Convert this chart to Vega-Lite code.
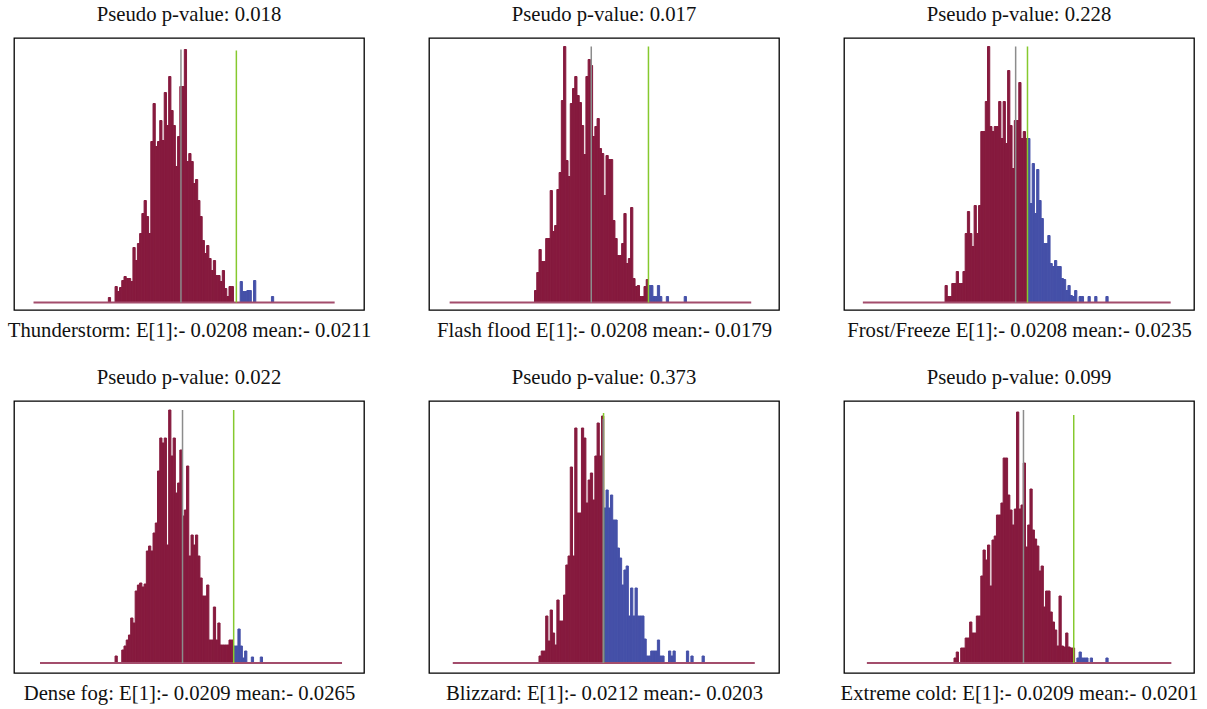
{
"$schema": "https://vega.github.io/schema/vega-lite/v6.json",
"background": "white",
"padding": {"left": 6, "top": 3, "right": 5, "bottom": 3},
"config": {
 "font": "Liberation Serif",
 "view": {"stroke": "#000", "strokeWidth": 1.3},
 "bar": {"strokeWidth": 1},
 "title": {"font": "Liberation Serif", "fontSize": 20.7, "fontWeight": "normal", "color": "#111", "baseline": "alphabetic", "offset": 12, "anchor": "middle"},
 "axis": {"domain": false, "ticks": false, "labels": false, "grid": false, "titleFont": "Liberation Serif", "titleFontSize": 20.7, "titleFontWeight": "normal", "titleColor": "#111", "titlePadding": 26, "titleBaseline": "alphabetic"}
},
"datasets": {
 "bars": [
  {"p":1,"b":40,"e":41,"n":5,"t":"lo"},{"p":1,"b":43,"e":44,"n":16,"t":"lo"},{"p":1,"b":44,"e":45,"n":11,"t":"lo"},{"p":1,"b":45,"e":46,"n":15,"t":"lo"},{"p":1,"b":46,"e":47,"n":22,"t":"lo"},{"p":1,"b":47,"e":48,"n":26,"t":"lo"},{"p":1,"b":48,"e":49,"n":24,"t":"lo"},{"p":1,"b":49,"e":50,"n":24,"t":"lo"},{"p":1,"b":50,"e":51,"n":21,"t":"lo"},{"p":1,"b":51,"e":52,"n":55,"t":"lo"},{"p":1,"b":52,"e":53,"n":42,"t":"lo"},{"p":1,"b":53,"e":54,"n":59,"t":"lo"},{"p":1,"b":54,"e":55,"n":69,"t":"lo"},{"p":1,"b":55,"e":56,"n":89,"t":"lo"},{"p":1,"b":56,"e":57,"n":102,"t":"lo"},{"p":1,"b":57,"e":58,"n":86,"t":"lo"},{"p":1,"b":58,"e":59,"n":69,"t":"lo"},{"p":1,"b":59,"e":60,"n":161,"t":"lo"},{"p":1,"b":60,"e":61,"n":199,"t":"lo"},{"p":1,"b":61,"e":62,"n":156,"t":"lo"},{"p":1,"b":62,"e":63,"n":161,"t":"lo"},{"p":1,"b":63,"e":64,"n":182,"t":"lo"},{"p":1,"b":64,"e":65,"n":162,"t":"lo"},{"p":1,"b":65,"e":66,"n":210,"t":"lo"},{"p":1,"b":66,"e":67,"n":177,"t":"lo"},{"p":1,"b":67,"e":68,"n":226,"t":"lo"},{"p":1,"b":68,"e":69,"n":192,"t":"lo"},{"p":1,"b":69,"e":70,"n":177,"t":"lo"},{"p":1,"b":70,"e":71,"n":136,"t":"lo"},{"p":1,"b":71,"e":72,"n":166,"t":"lo"},{"p":1,"b":72,"e":73,"n":216,"t":"lo"},{"p":1,"b":73,"e":74,"n":216,"t":"lo"},{"p":1,"b":74,"e":75,"n":253,"t":"lo"},{"p":1,"b":75,"e":76,"n":141,"t":"lo"},{"p":1,"b":76,"e":77,"n":149,"t":"lo"},{"p":1,"b":77,"e":78,"n":141,"t":"lo"},{"p":1,"b":78,"e":79,"n":119,"t":"lo"},{"p":1,"b":79,"e":80,"n":123,"t":"lo"},{"p":1,"b":80,"e":81,"n":102,"t":"lo"},{"p":1,"b":81,"e":82,"n":86,"t":"lo"},{"p":1,"b":82,"e":83,"n":62,"t":"lo"},{"p":1,"b":83,"e":84,"n":49,"t":"lo"},{"p":1,"b":84,"e":85,"n":57,"t":"lo"},{"p":1,"b":85,"e":86,"n":44,"t":"lo"},{"p":1,"b":86,"e":87,"n":32,"t":"lo"},{"p":1,"b":87,"e":88,"n":42,"t":"lo"},{"p":1,"b":88,"e":89,"n":27,"t":"lo"},{"p":1,"b":89,"e":90,"n":27,"t":"lo"},{"p":1,"b":90,"e":91,"n":21,"t":"lo"},{"p":1,"b":91,"e":92,"n":32,"t":"lo"},{"p":1,"b":92,"e":93,"n":14,"t":"lo"},{"p":1,"b":93,"e":94,"n":6,"t":"lo"},{"p":1,"b":94,"e":95,"n":16,"t":"lo"},{"p":1,"b":95,"e":96,"n":16,"t":"lo"},{"p":1,"b":99,"e":100,"n":21,"t":"hi"},{"p":1,"b":100,"e":101,"n":11,"t":"hi"},{"p":1,"b":101,"e":102,"n":11,"t":"hi"},{"p":1,"b":102,"e":103,"n":12,"t":"hi"},{"p":1,"b":103,"e":104,"n":12,"t":"hi"},{"p":1,"b":105,"e":106,"n":22,"t":"hi"},{"p":1,"b":113,"e":114,"n":6,"t":"hi"},

  {"p":2,"b":45,"e":46,"n":12,"t":"lo"},{"p":2,"b":46,"e":47,"n":30,"t":"lo"},{"p":2,"b":47,"e":48,"n":53,"t":"lo"},{"p":2,"b":48,"e":49,"n":41,"t":"lo"},{"p":2,"b":49,"e":50,"n":41,"t":"lo"},{"p":2,"b":50,"e":51,"n":64,"t":"lo"},{"p":2,"b":51,"e":52,"n":64,"t":"lo"},{"p":2,"b":52,"e":53,"n":112,"t":"lo"},{"p":2,"b":53,"e":54,"n":71,"t":"lo"},{"p":2,"b":54,"e":55,"n":77,"t":"lo"},{"p":2,"b":55,"e":56,"n":113,"t":"lo"},{"p":2,"b":56,"e":57,"n":130,"t":"lo"},{"p":2,"b":57,"e":58,"n":202,"t":"lo"},{"p":2,"b":58,"e":59,"n":256,"t":"lo"},{"p":2,"b":59,"e":60,"n":142,"t":"lo"},{"p":2,"b":60,"e":61,"n":126,"t":"lo"},{"p":2,"b":61,"e":62,"n":199,"t":"lo"},{"p":2,"b":62,"e":63,"n":214,"t":"lo"},{"p":2,"b":63,"e":64,"n":226,"t":"lo"},{"p":2,"b":64,"e":65,"n":207,"t":"lo"},{"p":2,"b":65,"e":66,"n":200,"t":"lo"},{"p":2,"b":66,"e":67,"n":177,"t":"lo"},{"p":2,"b":67,"e":68,"n":148,"t":"lo"},{"p":2,"b":68,"e":69,"n":226,"t":"lo"},{"p":2,"b":69,"e":70,"n":243,"t":"lo"},{"p":2,"b":70,"e":71,"n":237,"t":"lo"},{"p":2,"b":71,"e":72,"n":166,"t":"lo"},{"p":2,"b":72,"e":73,"n":176,"t":"lo"},{"p":2,"b":73,"e":74,"n":184,"t":"lo"},{"p":2,"b":74,"e":75,"n":154,"t":"lo"},{"p":2,"b":75,"e":76,"n":149,"t":"lo"},{"p":2,"b":76,"e":77,"n":107,"t":"lo"},{"p":2,"b":77,"e":78,"n":147,"t":"lo"},{"p":2,"b":78,"e":79,"n":143,"t":"lo"},{"p":2,"b":79,"e":80,"n":143,"t":"lo"},{"p":2,"b":80,"e":81,"n":82,"t":"lo"},{"p":2,"b":81,"e":82,"n":64,"t":"lo"},{"p":2,"b":82,"e":83,"n":47,"t":"lo"},{"p":2,"b":83,"e":84,"n":47,"t":"lo"},{"p":2,"b":84,"e":85,"n":59,"t":"lo"},{"p":2,"b":85,"e":86,"n":89,"t":"lo"},{"p":2,"b":86,"e":87,"n":39,"t":"lo"},{"p":2,"b":87,"e":88,"n":44,"t":"lo"},{"p":2,"b":88,"e":89,"n":95,"t":"lo"},{"p":2,"b":89,"e":90,"n":24,"t":"lo"},{"p":2,"b":90,"e":91,"n":16,"t":"lo"},{"p":2,"b":91,"e":92,"n":17,"t":"lo"},{"p":2,"b":92,"e":93,"n":6,"t":"lo"},{"p":2,"b":93,"e":94,"n":6,"t":"lo"},{"p":2,"b":94,"e":95,"n":16,"t":"lo"},{"p":2,"b":95,"e":96,"n":23,"t":"lo"},{"p":2,"b":96,"e":97,"n":17,"t":"hi"},{"p":2,"b":97,"e":98,"n":17,"t":"hi"},{"p":2,"b":98,"e":99,"n":6,"t":"hi"},{"p":2,"b":99,"e":100,"n":6,"t":"hi"},{"p":2,"b":100,"e":101,"n":17,"t":"hi"},{"p":2,"b":101,"e":102,"n":6,"t":"hi"},{"p":2,"b":104,"e":105,"n":6,"t":"hi"},{"p":2,"b":112,"e":113,"n":6,"t":"hi"},

  {"p":3,"b":43,"e":44,"n":17,"t":"lo"},{"p":3,"b":44,"e":45,"n":6,"t":"lo"},{"p":3,"b":45,"e":46,"n":6,"t":"lo"},{"p":3,"b":46,"e":47,"n":19,"t":"lo"},{"p":3,"b":47,"e":48,"n":19,"t":"lo"},{"p":3,"b":48,"e":49,"n":31,"t":"lo"},{"p":3,"b":49,"e":50,"n":19,"t":"lo"},{"p":3,"b":50,"e":51,"n":19,"t":"lo"},{"p":3,"b":51,"e":52,"n":31,"t":"lo"},{"p":3,"b":52,"e":53,"n":69,"t":"lo"},{"p":3,"b":53,"e":54,"n":91,"t":"lo"},{"p":3,"b":54,"e":55,"n":69,"t":"lo"},{"p":3,"b":55,"e":56,"n":56,"t":"lo"},{"p":3,"b":56,"e":57,"n":97,"t":"lo"},{"p":3,"b":57,"e":58,"n":69,"t":"lo"},{"p":3,"b":58,"e":59,"n":97,"t":"lo"},{"p":3,"b":59,"e":60,"n":171,"t":"lo"},{"p":3,"b":60,"e":61,"n":171,"t":"lo"},{"p":3,"b":61,"e":62,"n":201,"t":"lo"},{"p":3,"b":62,"e":63,"n":256,"t":"lo"},{"p":3,"b":63,"e":64,"n":176,"t":"lo"},{"p":3,"b":64,"e":65,"n":171,"t":"lo"},{"p":3,"b":65,"e":66,"n":176,"t":"lo"},{"p":3,"b":66,"e":67,"n":176,"t":"lo"},{"p":3,"b":67,"e":68,"n":201,"t":"lo"},{"p":3,"b":68,"e":69,"n":164,"t":"lo"},{"p":3,"b":69,"e":70,"n":201,"t":"lo"},{"p":3,"b":70,"e":71,"n":159,"t":"lo"},{"p":3,"b":71,"e":72,"n":232,"t":"lo"},{"p":3,"b":72,"e":73,"n":177,"t":"lo"},{"p":3,"b":73,"e":74,"n":134,"t":"lo"},{"p":3,"b":74,"e":75,"n":182,"t":"lo"},{"p":3,"b":75,"e":76,"n":182,"t":"lo"},{"p":3,"b":76,"e":77,"n":220,"t":"lo"},{"p":3,"b":77,"e":78,"n":164,"t":"lo"},{"p":3,"b":78,"e":79,"n":171,"t":"lo"},{"p":3,"b":79,"e":80,"n":164,"t":"lo"},{"p":3,"b":80,"e":81,"n":164,"t":"hi"},{"p":3,"b":81,"e":82,"n":99,"t":"hi"},{"p":3,"b":82,"e":83,"n":139,"t":"hi"},{"p":3,"b":83,"e":84,"n":89,"t":"hi"},{"p":3,"b":84,"e":85,"n":133,"t":"hi"},{"p":3,"b":85,"e":86,"n":102,"t":"hi"},{"p":3,"b":86,"e":87,"n":84,"t":"hi"},{"p":3,"b":87,"e":88,"n":59,"t":"hi"},{"p":3,"b":88,"e":89,"n":59,"t":"hi"},{"p":3,"b":89,"e":90,"n":67,"t":"hi"},{"p":3,"b":90,"e":91,"n":39,"t":"hi"},{"p":3,"b":91,"e":92,"n":36,"t":"hi"},{"p":3,"b":92,"e":93,"n":42,"t":"hi"},{"p":3,"b":93,"e":94,"n":36,"t":"hi"},{"p":3,"b":94,"e":95,"n":36,"t":"hi"},{"p":3,"b":95,"e":96,"n":24,"t":"hi"},{"p":3,"b":96,"e":97,"n":23,"t":"hi"},{"p":3,"b":97,"e":98,"n":12,"t":"hi"},{"p":3,"b":98,"e":99,"n":17,"t":"hi"},{"p":3,"b":99,"e":100,"n":7,"t":"hi"},{"p":3,"b":100,"e":101,"n":6,"t":"hi"},{"p":3,"b":101,"e":102,"n":12,"t":"hi"},{"p":3,"b":103,"e":104,"n":6,"t":"hi"},{"p":3,"b":104,"e":105,"n":6,"t":"hi"},{"p":3,"b":107,"e":108,"n":6,"t":"hi"},{"p":3,"b":110,"e":111,"n":6,"t":"hi"},{"p":3,"b":115,"e":116,"n":6,"t":"hi"},

  {"p":4,"b":43,"e":44,"n":7,"t":"lo"},{"p":4,"b":46,"e":47,"n":13,"t":"lo"},{"p":4,"b":47,"e":48,"n":17,"t":"lo"},{"p":4,"b":48,"e":49,"n":23,"t":"lo"},{"p":4,"b":49,"e":50,"n":28,"t":"lo"},{"p":4,"b":50,"e":51,"n":45,"t":"lo"},{"p":4,"b":51,"e":52,"n":40,"t":"lo"},{"p":4,"b":52,"e":53,"n":72,"t":"lo"},{"p":4,"b":53,"e":54,"n":78,"t":"lo"},{"p":4,"b":54,"e":55,"n":80,"t":"lo"},{"p":4,"b":55,"e":56,"n":76,"t":"lo"},{"p":4,"b":56,"e":57,"n":79,"t":"lo"},{"p":4,"b":57,"e":58,"n":112,"t":"lo"},{"p":4,"b":58,"e":59,"n":117,"t":"lo"},{"p":4,"b":59,"e":60,"n":112,"t":"lo"},{"p":4,"b":60,"e":61,"n":130,"t":"lo"},{"p":4,"b":61,"e":62,"n":140,"t":"lo"},{"p":4,"b":62,"e":63,"n":192,"t":"lo"},{"p":4,"b":63,"e":64,"n":225,"t":"lo"},{"p":4,"b":64,"e":65,"n":220,"t":"lo"},{"p":4,"b":65,"e":66,"n":225,"t":"lo"},{"p":4,"b":66,"e":67,"n":118,"t":"lo"},{"p":4,"b":67,"e":68,"n":253,"t":"lo"},{"p":4,"b":68,"e":69,"n":207,"t":"lo"},{"p":4,"b":69,"e":70,"n":225,"t":"lo"},{"p":4,"b":70,"e":71,"n":170,"t":"lo"},{"p":4,"b":71,"e":72,"n":180,"t":"lo"},{"p":4,"b":72,"e":73,"n":213,"t":"lo"},{"p":4,"b":73,"e":74,"n":147,"t":"lo"},{"p":4,"b":74,"e":75,"n":153,"t":"lo"},{"p":4,"b":75,"e":76,"n":197,"t":"lo"},{"p":4,"b":76,"e":77,"n":107,"t":"lo"},{"p":4,"b":77,"e":78,"n":128,"t":"lo"},{"p":4,"b":78,"e":79,"n":118,"t":"lo"},{"p":4,"b":79,"e":80,"n":128,"t":"lo"},{"p":4,"b":80,"e":81,"n":107,"t":"lo"},{"p":4,"b":81,"e":82,"n":85,"t":"lo"},{"p":4,"b":82,"e":83,"n":67,"t":"lo"},{"p":4,"b":83,"e":84,"n":67,"t":"lo"},{"p":4,"b":84,"e":85,"n":78,"t":"lo"},{"p":4,"b":85,"e":86,"n":23,"t":"lo"},{"p":4,"b":86,"e":87,"n":23,"t":"lo"},{"p":4,"b":87,"e":88,"n":56,"t":"lo"},{"p":4,"b":88,"e":89,"n":23,"t":"lo"},{"p":4,"b":89,"e":90,"n":40,"t":"lo"},{"p":4,"b":90,"e":91,"n":18,"t":"lo"},{"p":4,"b":91,"e":92,"n":18,"t":"lo"},{"p":4,"b":92,"e":93,"n":18,"t":"lo"},{"p":4,"b":93,"e":94,"n":18,"t":"lo"},{"p":4,"b":94,"e":95,"n":23,"t":"lo"},{"p":4,"b":95,"e":96,"n":23,"t":"lo"},{"p":4,"b":96,"e":97,"n":17,"t":"hi"},{"p":4,"b":97,"e":98,"n":17,"t":"hi"},{"p":4,"b":98,"e":99,"n":34,"t":"hi"},{"p":4,"b":99,"e":100,"n":17,"t":"hi"},{"p":4,"b":100,"e":101,"n":5,"t":"hi"},{"p":4,"b":101,"e":102,"n":12,"t":"hi"},{"p":4,"b":104,"e":105,"n":6,"t":"hi"},{"p":4,"b":108,"e":109,"n":6,"t":"hi"},

  {"p":5,"b":47,"e":48,"n":7,"t":"lo"},{"p":5,"b":48,"e":49,"n":12,"t":"lo"},{"p":5,"b":49,"e":50,"n":12,"t":"lo"},{"p":5,"b":50,"e":51,"n":47,"t":"lo"},{"p":5,"b":51,"e":52,"n":22,"t":"lo"},{"p":5,"b":52,"e":53,"n":53,"t":"lo"},{"p":5,"b":53,"e":54,"n":30,"t":"lo"},{"p":5,"b":54,"e":55,"n":18,"t":"lo"},{"p":5,"b":55,"e":56,"n":63,"t":"lo"},{"p":5,"b":56,"e":57,"n":42,"t":"lo"},{"p":5,"b":57,"e":58,"n":42,"t":"lo"},{"p":5,"b":58,"e":59,"n":68,"t":"lo"},{"p":5,"b":59,"e":60,"n":98,"t":"lo"},{"p":5,"b":60,"e":61,"n":107,"t":"lo"},{"p":5,"b":61,"e":62,"n":196,"t":"lo"},{"p":5,"b":62,"e":63,"n":107,"t":"lo"},{"p":5,"b":63,"e":64,"n":235,"t":"lo"},{"p":5,"b":64,"e":65,"n":150,"t":"lo"},{"p":5,"b":65,"e":66,"n":150,"t":"lo"},{"p":5,"b":66,"e":67,"n":235,"t":"lo"},{"p":5,"b":67,"e":68,"n":225,"t":"lo"},{"p":5,"b":68,"e":69,"n":160,"t":"lo"},{"p":5,"b":69,"e":70,"n":183,"t":"lo"},{"p":5,"b":70,"e":71,"n":190,"t":"lo"},{"p":5,"b":71,"e":72,"n":163,"t":"lo"},{"p":5,"b":72,"e":73,"n":207,"t":"lo"},{"p":5,"b":73,"e":74,"n":240,"t":"lo"},{"p":5,"b":74,"e":75,"n":207,"t":"lo"},{"p":5,"b":75,"e":76,"n":247,"t":"lo"},{"p":5,"b":76,"e":77,"n":155,"t":"hi"},{"p":5,"b":77,"e":78,"n":173,"t":"hi"},{"p":5,"b":78,"e":79,"n":155,"t":"hi"},{"p":5,"b":79,"e":80,"n":168,"t":"hi"},{"p":5,"b":80,"e":81,"n":143,"t":"hi"},{"p":5,"b":81,"e":82,"n":143,"t":"hi"},{"p":5,"b":82,"e":83,"n":115,"t":"hi"},{"p":5,"b":83,"e":84,"n":105,"t":"hi"},{"p":5,"b":84,"e":85,"n":78,"t":"hi"},{"p":5,"b":85,"e":86,"n":93,"t":"hi"},{"p":5,"b":86,"e":87,"n":97,"t":"hi"},{"p":5,"b":87,"e":88,"n":47,"t":"hi"},{"p":5,"b":88,"e":89,"n":75,"t":"hi"},{"p":5,"b":89,"e":90,"n":47,"t":"hi"},{"p":5,"b":90,"e":91,"n":75,"t":"hi"},{"p":5,"b":91,"e":92,"n":47,"t":"hi"},{"p":5,"b":92,"e":93,"n":47,"t":"hi"},{"p":5,"b":93,"e":94,"n":47,"t":"hi"},{"p":5,"b":94,"e":95,"n":24,"t":"hi"},{"p":5,"b":95,"e":96,"n":7,"t":"hi"},{"p":5,"b":96,"e":97,"n":7,"t":"hi"},{"p":5,"b":97,"e":98,"n":12,"t":"hi"},{"p":5,"b":98,"e":99,"n":12,"t":"hi"},{"p":5,"b":99,"e":100,"n":12,"t":"hi"},{"p":5,"b":100,"e":101,"n":23,"t":"hi"},{"p":5,"b":101,"e":102,"n":7,"t":"hi"},{"p":5,"b":102,"e":103,"n":7,"t":"hi"},{"p":5,"b":105,"e":106,"n":12,"t":"hi"},{"p":5,"b":106,"e":107,"n":7,"t":"hi"},{"p":5,"b":107,"e":108,"n":12,"t":"hi"},{"p":5,"b":113,"e":114,"n":12,"t":"hi"},{"p":5,"b":115,"e":116,"n":7,"t":"hi"},{"p":5,"b":120,"e":121,"n":7,"t":"hi"},

  {"p":6,"b":47,"e":48,"n":5,"t":"lo"},{"p":6,"b":48,"e":49,"n":11,"t":"lo"},{"p":6,"b":50,"e":51,"n":15,"t":"lo"},{"p":6,"b":51,"e":52,"n":15,"t":"lo"},{"p":6,"b":52,"e":53,"n":25,"t":"lo"},{"p":6,"b":53,"e":54,"n":25,"t":"lo"},{"p":6,"b":54,"e":55,"n":41,"t":"lo"},{"p":6,"b":55,"e":56,"n":30,"t":"lo"},{"p":6,"b":56,"e":57,"n":30,"t":"lo"},{"p":6,"b":57,"e":58,"n":47,"t":"lo"},{"p":6,"b":58,"e":59,"n":47,"t":"lo"},{"p":6,"b":59,"e":60,"n":87,"t":"lo"},{"p":6,"b":60,"e":61,"n":113,"t":"lo"},{"p":6,"b":61,"e":62,"n":103,"t":"lo"},{"p":6,"b":62,"e":63,"n":118,"t":"lo"},{"p":6,"b":63,"e":64,"n":77,"t":"lo"},{"p":6,"b":64,"e":65,"n":123,"t":"lo"},{"p":6,"b":65,"e":66,"n":127,"t":"lo"},{"p":6,"b":66,"e":67,"n":148,"t":"lo"},{"p":6,"b":67,"e":68,"n":148,"t":"lo"},{"p":6,"b":68,"e":69,"n":160,"t":"lo"},{"p":6,"b":69,"e":70,"n":205,"t":"lo"},{"p":6,"b":70,"e":71,"n":205,"t":"lo"},{"p":6,"b":71,"e":72,"n":168,"t":"lo"},{"p":6,"b":72,"e":73,"n":153,"t":"lo"},{"p":6,"b":73,"e":74,"n":138,"t":"lo"},{"p":6,"b":74,"e":75,"n":154,"t":"lo"},{"p":6,"b":75,"e":76,"n":251,"t":"lo"},{"p":6,"b":76,"e":77,"n":154,"t":"lo"},{"p":6,"b":77,"e":78,"n":158,"t":"lo"},{"p":6,"b":78,"e":79,"n":200,"t":"lo"},{"p":6,"b":79,"e":80,"n":116,"t":"lo"},{"p":6,"b":80,"e":81,"n":138,"t":"lo"},{"p":6,"b":81,"e":82,"n":174,"t":"lo"},{"p":6,"b":82,"e":83,"n":133,"t":"lo"},{"p":6,"b":83,"e":84,"n":124,"t":"lo"},{"p":6,"b":84,"e":85,"n":117,"t":"lo"},{"p":6,"b":85,"e":86,"n":92,"t":"lo"},{"p":6,"b":86,"e":87,"n":97,"t":"lo"},{"p":6,"b":87,"e":88,"n":56,"t":"lo"},{"p":6,"b":88,"e":89,"n":72,"t":"lo"},{"p":6,"b":89,"e":90,"n":72,"t":"lo"},{"p":6,"b":90,"e":91,"n":51,"t":"lo"},{"p":6,"b":91,"e":92,"n":41,"t":"lo"},{"p":6,"b":92,"e":93,"n":33,"t":"lo"},{"p":6,"b":93,"e":94,"n":17,"t":"lo"},{"p":6,"b":94,"e":95,"n":67,"t":"lo"},{"p":6,"b":95,"e":96,"n":17,"t":"lo"},{"p":6,"b":96,"e":97,"n":16,"t":"lo"},{"p":6,"b":97,"e":98,"n":30,"t":"lo"},{"p":6,"b":98,"e":99,"n":16,"t":"lo"},{"p":6,"b":99,"e":100,"n":15,"t":"lo"},{"p":6,"b":100,"e":101,"n":15,"t":"lo"},{"p":6,"b":102,"e":103,"n":5,"t":"hi"},{"p":6,"b":103,"e":104,"n":11,"t":"hi"},{"p":6,"b":104,"e":105,"n":5,"t":"hi"},{"p":6,"b":105,"e":106,"n":5,"t":"hi"},{"p":6,"b":106,"e":107,"n":5,"t":"hi"},{"p":6,"b":108,"e":109,"n":5,"t":"hi"},{"p":6,"b":115,"e":116,"n":5,"t":"hi"}
 ],
 "lines": [
  {"p":1,"k":"obs","x":97.3,"bot":0,"top":252},{"p":1,"k":"mean","x":72.5,"bot":0,"top":253},
  {"p":2,"k":"obs","x":96.0,"bot":0,"top":256},{"p":2,"k":"mean","x":70.4,"bot":0,"top":256},
  {"p":3,"k":"obs","x":79.9,"bot":0,"top":256},{"p":3,"k":"mean","x":74.6,"bot":0,"top":256},
  {"p":4,"k":"obs","x":96.1,"bot":0,"top":253},{"p":4,"k":"mean","x":73.2,"bot":0,"top":253},
  {"p":5,"k":"obs","x":75.9,"bot":0,"top":250},{"p":5,"k":"mean","x":75.8,"bot":0,"top":244},
  {"p":6,"k":"obs","x":100.6,"bot":0,"top":248},{"p":6,"k":"mean","x":78.1,"bot":0,"top":253}
 ],
 "base": [
  {"p":1,"from":6.5,"to":141.3,"lvl":0},{"p":2,"from":7,"to":142,"lvl":0},{"p":3,"from":6.2,"to":144,"lvl":0},
  {"p":4,"from":9.4,"to":144.6,"lvl":0},{"p":5,"from":8.4,"to":143.6,"lvl":0},{"p":6,"from":8,"to":144.3,"lvl":0}
 ]
},
"concat": [
 {"width":350,"height":272,"title":"Pseudo p-value: 0.018","layer":[
  {"data":{"name":"bars"},"transform":[{"filter":"datum.p == 1 && datum.t == 'lo'"}],"mark":{"type":"bar","orient":"vertical","color":"#861a3e","stroke":"#861a3e","strokeWidth":1},"encoding":{"x":{"field":"b","type":"quantitative","scale":{"domain":[0,152.2],"nice":false,"zero":false},"axis":{"title":"Thunderstorm: E[1]:- 0.0208 mean:- 0.0211"}},"x2":{"field":"e"},"y":{"field":"n","type":"quantitative","scale":{"domain":[-7.5,264.5],"nice":false,"zero":false},"axis":null}}},
  {"data":{"name":"bars"},"transform":[{"filter":"datum.p == 1 && datum.t == 'hi'"}],"mark":{"type":"bar","orient":"vertical","color":"#4550a8","stroke":"#4550a8","strokeWidth":1},"encoding":{"x":{"field":"b","type":"quantitative"},"x2":{"field":"e"},"y":{"field":"n","type":"quantitative"}}},
  {"data":{"name":"base"},"transform":[{"filter":"datum.p == 1"}],"mark":{"type":"rule","color":"#a34d6c","strokeWidth":2},"encoding":{"x":{"field":"from","type":"quantitative"},"x2":{"field":"to"},"y":{"field":"lvl","type":"quantitative"}}},
  {"data":{"name":"lines"},"transform":[{"filter":"datum.p == 1"}],"mark":{"type":"rule","strokeWidth":1.5},"encoding":{"x":{"field":"x","type":"quantitative"},"y":{"field":"bot","type":"quantitative"},"y2":{"field":"top"},"color":{"field":"k","type":"nominal","scale":{"domain":["mean","obs"],"range":["#8c8c8c","#86c92e"]},"legend":null}}}
 ]},
 {"width":350,"height":272,"title":"Pseudo p-value: 0.017","layer":[
  {"data":{"name":"bars"},"transform":[{"filter":"datum.p == 2 && datum.t == 'lo'"}],"mark":{"type":"bar","orient":"vertical","color":"#861a3e","stroke":"#861a3e","strokeWidth":1},"encoding":{"x":{"field":"b","type":"quantitative","scale":{"domain":[0,152.2],"nice":false,"zero":false},"axis":{"title":"Flash flood E[1]:- 0.0208 mean:- 0.0179"}},"x2":{"field":"e"},"y":{"field":"n","type":"quantitative","scale":{"domain":[-7.5,264.5],"nice":false,"zero":false},"axis":null}}},
  {"data":{"name":"bars"},"transform":[{"filter":"datum.p == 2 && datum.t == 'hi'"}],"mark":{"type":"bar","orient":"vertical","color":"#4550a8","stroke":"#4550a8","strokeWidth":1},"encoding":{"x":{"field":"b","type":"quantitative"},"x2":{"field":"e"},"y":{"field":"n","type":"quantitative"}}},
  {"data":{"name":"base"},"transform":[{"filter":"datum.p == 2"}],"mark":{"type":"rule","color":"#a34d6c","strokeWidth":2},"encoding":{"x":{"field":"from","type":"quantitative"},"x2":{"field":"to"},"y":{"field":"lvl","type":"quantitative"}}},
  {"data":{"name":"lines"},"transform":[{"filter":"datum.p == 2"}],"mark":{"type":"rule","strokeWidth":1.5},"encoding":{"x":{"field":"x","type":"quantitative"},"y":{"field":"bot","type":"quantitative"},"y2":{"field":"top"},"color":{"field":"k","type":"nominal","scale":{"domain":["mean","obs"],"range":["#8c8c8c","#86c92e"]},"legend":null}}}
 ]},
 {"width":350,"height":272,"title":"Pseudo p-value: 0.228","layer":[
  {"data":{"name":"bars"},"transform":[{"filter":"datum.p == 3 && datum.t == 'lo'"}],"mark":{"type":"bar","orient":"vertical","color":"#861a3e","stroke":"#861a3e","strokeWidth":1},"encoding":{"x":{"field":"b","type":"quantitative","scale":{"domain":[0,152.2],"nice":false,"zero":false},"axis":{"title":"Frost/Freeze E[1]:- 0.0208 mean:- 0.0235"}},"x2":{"field":"e"},"y":{"field":"n","type":"quantitative","scale":{"domain":[-7.5,264.5],"nice":false,"zero":false},"axis":null}}},
  {"data":{"name":"bars"},"transform":[{"filter":"datum.p == 3 && datum.t == 'hi'"}],"mark":{"type":"bar","orient":"vertical","color":"#4550a8","stroke":"#4550a8","strokeWidth":1},"encoding":{"x":{"field":"b","type":"quantitative"},"x2":{"field":"e"},"y":{"field":"n","type":"quantitative"}}},
  {"data":{"name":"base"},"transform":[{"filter":"datum.p == 3"}],"mark":{"type":"rule","color":"#a34d6c","strokeWidth":2},"encoding":{"x":{"field":"from","type":"quantitative"},"x2":{"field":"to"},"y":{"field":"lvl","type":"quantitative"}}},
  {"data":{"name":"lines"},"transform":[{"filter":"datum.p == 3"}],"mark":{"type":"rule","strokeWidth":1.5},"encoding":{"x":{"field":"x","type":"quantitative"},"y":{"field":"bot","type":"quantitative"},"y2":{"field":"top"},"color":{"field":"k","type":"nominal","scale":{"domain":["mean","obs"],"range":["#8c8c8c","#86c92e"]},"legend":null}}}
 ]},
 {"width":350,"height":272,"title":"Pseudo p-value: 0.022","layer":[
  {"data":{"name":"bars"},"transform":[{"filter":"datum.p == 4 && datum.t == 'lo'"}],"mark":{"type":"bar","orient":"vertical","color":"#861a3e","stroke":"#861a3e","strokeWidth":1},"encoding":{"x":{"field":"b","type":"quantitative","scale":{"domain":[0,152.2],"nice":false,"zero":false},"axis":{"title":"Dense fog: E[1]:- 0.0209 mean:- 0.0265"}},"x2":{"field":"e"},"y":{"field":"n","type":"quantitative","scale":{"domain":[-10,262],"nice":false,"zero":false},"axis":null}}},
  {"data":{"name":"bars"},"transform":[{"filter":"datum.p == 4 && datum.t == 'hi'"}],"mark":{"type":"bar","orient":"vertical","color":"#4550a8","stroke":"#4550a8","strokeWidth":1},"encoding":{"x":{"field":"b","type":"quantitative"},"x2":{"field":"e"},"y":{"field":"n","type":"quantitative"}}},
  {"data":{"name":"base"},"transform":[{"filter":"datum.p == 4"}],"mark":{"type":"rule","color":"#a34d6c","strokeWidth":2},"encoding":{"x":{"field":"from","type":"quantitative"},"x2":{"field":"to"},"y":{"field":"lvl","type":"quantitative"}}},
  {"data":{"name":"lines"},"transform":[{"filter":"datum.p == 4"}],"mark":{"type":"rule","strokeWidth":1.5},"encoding":{"x":{"field":"x","type":"quantitative"},"y":{"field":"bot","type":"quantitative"},"y2":{"field":"top"},"color":{"field":"k","type":"nominal","scale":{"domain":["mean","obs"],"range":["#8c8c8c","#86c92e"]},"legend":null}}}
 ]},
 {"width":350,"height":272,"title":"Pseudo p-value: 0.373","layer":[
  {"data":{"name":"bars"},"transform":[{"filter":"datum.p == 5 && datum.t == 'lo'"}],"mark":{"type":"bar","orient":"vertical","color":"#861a3e","stroke":"#861a3e","strokeWidth":1},"encoding":{"x":{"field":"b","type":"quantitative","scale":{"domain":[0,152.2],"nice":false,"zero":false},"axis":{"title":"Blizzard: E[1]:- 0.0212 mean:- 0.0203"}},"x2":{"field":"e"},"y":{"field":"n","type":"quantitative","scale":{"domain":[-10,262],"nice":false,"zero":false},"axis":null}}},
  {"data":{"name":"bars"},"transform":[{"filter":"datum.p == 5 && datum.t == 'hi'"}],"mark":{"type":"bar","orient":"vertical","color":"#4550a8","stroke":"#4550a8","strokeWidth":1},"encoding":{"x":{"field":"b","type":"quantitative"},"x2":{"field":"e"},"y":{"field":"n","type":"quantitative"}}},
  {"data":{"name":"base"},"transform":[{"filter":"datum.p == 5"}],"mark":{"type":"rule","color":"#a34d6c","strokeWidth":2},"encoding":{"x":{"field":"from","type":"quantitative"},"x2":{"field":"to"},"y":{"field":"lvl","type":"quantitative"}}},
  {"data":{"name":"lines"},"transform":[{"filter":"datum.p == 5"}],"mark":{"type":"rule","strokeWidth":1.5},"encoding":{"x":{"field":"x","type":"quantitative"},"y":{"field":"bot","type":"quantitative"},"y2":{"field":"top"},"color":{"field":"k","type":"nominal","scale":{"domain":["mean","obs"],"range":["#8c8c8c","#86c92e"]},"legend":null}}}
 ]},
 {"width":350,"height":272,"title":"Pseudo p-value: 0.099","layer":[
  {"data":{"name":"bars"},"transform":[{"filter":"datum.p == 6 && datum.t == 'lo'"}],"mark":{"type":"bar","orient":"vertical","color":"#861a3e","stroke":"#861a3e","strokeWidth":1},"encoding":{"x":{"field":"b","type":"quantitative","scale":{"domain":[0,152.2],"nice":false,"zero":false},"axis":{"title":"Extreme cold: E[1]:- 0.0209 mean:- 0.0201"}},"x2":{"field":"e"},"y":{"field":"n","type":"quantitative","scale":{"domain":[-10,262],"nice":false,"zero":false},"axis":null}}},
  {"data":{"name":"bars"},"transform":[{"filter":"datum.p == 6 && datum.t == 'hi'"}],"mark":{"type":"bar","orient":"vertical","color":"#4550a8","stroke":"#4550a8","strokeWidth":1},"encoding":{"x":{"field":"b","type":"quantitative"},"x2":{"field":"e"},"y":{"field":"n","type":"quantitative"}}},
  {"data":{"name":"base"},"transform":[{"filter":"datum.p == 6"}],"mark":{"type":"rule","color":"#a34d6c","strokeWidth":2},"encoding":{"x":{"field":"from","type":"quantitative"},"x2":{"field":"to"},"y":{"field":"lvl","type":"quantitative"}}},
  {"data":{"name":"lines"},"transform":[{"filter":"datum.p == 6"}],"mark":{"type":"rule","strokeWidth":1.5},"encoding":{"x":{"field":"x","type":"quantitative"},"y":{"field":"bot","type":"quantitative"},"y2":{"field":"top"},"color":{"field":"k","type":"nominal","scale":{"domain":["mean","obs"],"range":["#8c8c8c","#86c92e"]},"legend":null}}}
 ]}
],
"columns": 3,
"spacing": {"row": 91, "column": 65},
"bounds": "flush"
}
